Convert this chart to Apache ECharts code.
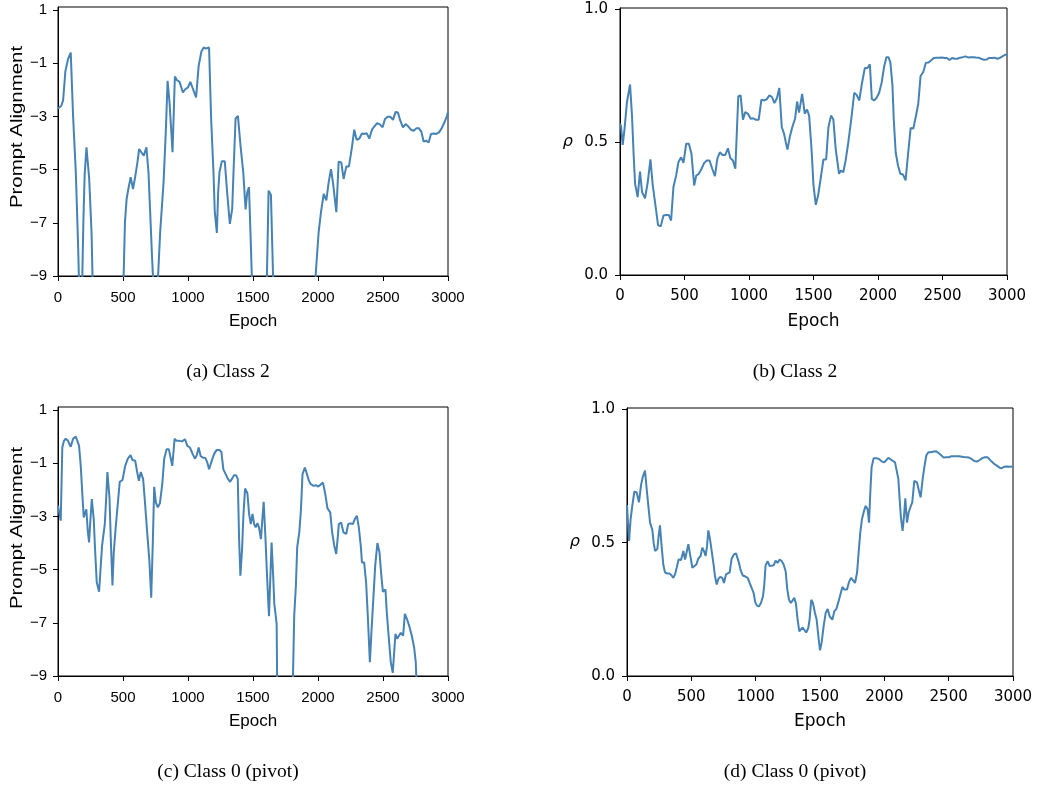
<!DOCTYPE html>
<html>
<head>
<meta charset="utf-8">
<title>Prompt alignment and rho over training</title>
<script src="https://cdn.jsdelivr.net/npm/echarts@6/dist/echarts.min.js"></script>
<style>
  html, body { margin: 0; padding: 0; background: #fff; }
  #chart { width: 1039px; height: 788px; }
</style>
</head>
<body>
<div id="chart"></div>
<script>
// Epoch ticks shared by every panel
const epochTicks = [0, 500, 1000, 1500, 2000, 2500, 3000];
const alignTicks = [-9, -7, -5, -3, -1, 1];
const rhoTicks = [0, 0.5, 1.0];

// [epoch, prompt alignment] for class 2; values under -9 run off the bottom of the axes
const alignClass2 = [
  [0,-2.7],[13,-2.75],[25,-2.6],[39,-2.41],[57,-1.29],[77,-0.85],[98,-0.6],[105,-0.54],[116,-2.98],
  [137,-5.1],[155,-7.9],[175,-12],[195,-7.0],[205,-5.2],[219,-4.16],[240,-5.35],[258,-7.35],[272,-10.5],
  [300,-13],[350,-14],[400,-13.5],[450,-14],[490,-12],[515,-6.98],[528,-6.1],[541,-5.73],[559,-5.29],
  [577,-5.73],[593,-5.29],[611,-4.73],[624,-4.23],[639,-4.2],[660,-4.48],[680,-4.16],[696,-5.1],[709,-6.6],
  [724,-8.35],[745,-10.5],[760,-10],[786,-7.35],[812,-5.48],[830,-3.48],[843,-1.66],[858,-2.48],[881,-4.35],
  [899,-1.5],[914,-1.63],[935,-1.7],[961,-2.1],[979,-1.98],[1000,-1.91],[1018,-1.7],[1039,-1.98],[1062,-2.29],
  [1082,-1.1],[1103,-0.56],[1121,-0.41],[1137,-0.45],[1147,-0.41],[1162,-0.41],[1178,-3.1],[1196,-5.1],
  [1206,-6.6],[1222,-7.38],[1232,-5.85],[1242,-5.1],[1260,-4.69],[1283,-4.69],[1301,-5.85],[1322,-7.04],
  [1340,-6.48],[1350,-5.1],[1366,-3.08],[1384,-2.98],[1404,-4.1],[1425,-5.1],[1443,-6.5],[1456,-5.85],
  [1469,-5.66],[1482,-7.6],[1500,-10.5],[1520,-13],[1560,-14],[1595,-12],[1620,-5.79],[1638,-5.95],
  [1648,-6.0],[1665,-11],[1700,-14],[1800,-15],[1900,-14],[1960,-11],[1985,-8.73],[2005,-7.35],[2023,-6.6],
  [2044,-5.91],[2064,-6.16],[2082,-5.48],[2100,-4.98],[2115,-5.48],[2141,-6.6],[2159,-4.7],[2179,-4.73],
  [2197,-5.35],[2218,-4.88],[2238,-4.88],[2259,-4.23],[2279,-3.5],[2297,-3.88],[2318,-3.83],[2338,-3.64],
  [2354,-3.66],[2374,-3.63],[2395,-3.83],[2415,-3.5],[2433,-3.38],[2454,-3.25],[2474,-3.29],[2497,-3.41],
  [2515,-3.1],[2536,-3.01],[2556,-3.01],[2577,-3.13],[2597,-2.83],[2615,-2.85],[2633,-3.16],[2654,-3.41],
  [2674,-3.29],[2695,-3.38],[2715,-3.5],[2736,-3.54],[2756,-3.45],[2777,-3.45],[2795,-3.58],[2813,-3.95],
  [2831,-3.91],[2851,-3.98],[2869,-3.66],[2890,-3.64],[2910,-3.66],[2931,-3.6],[2951,-3.45],[2972,-3.23],
  [2992,-2.98],[3000,-2.83]
];

// [epoch, rho] for class 2
const rhoClass2 = [
  [0,0.57],[8,0.56],[21,0.49],[34,0.544],[54,0.651],[78,0.717],[93,0.60],[106,0.45],[117,0.343],[137,0.293],
  [155,0.389],[171,0.312],[194,0.289],[215,0.349],[236,0.435],[254,0.337],[275,0.261],[295,0.188],[316,0.183],
  [337,0.224],[357,0.226],[378,0.226],[396,0.205],[414,0.33],[435,0.374],[453,0.425],[474,0.443],[492,0.422],
  [513,0.494],[534,0.494],[554,0.456],[575,0.337],[591,0.374],[611,0.381],[632,0.40],[653,0.422],[673,0.431],
  [694,0.431],[715,0.40],[736,0.372],[754,0.437],[774,0.462],[795,0.452],[816,0.452],[837,0.477],[855,0.44],
  [875,0.431],[894,0.40],[917,0.673],[935,0.676],[953,0.585],[971,0.613],[992,0.607],[1013,0.588],[1033,0.59],
  [1054,0.584],[1075,0.584],[1096,0.66],[1116,0.657],[1137,0.661],[1158,0.676],[1178,0.67],[1197,0.647],
  [1217,0.666],[1235,0.704],[1254,0.557],[1272,0.531],[1285,0.5],[1298,0.472],[1316,0.519],[1336,0.557],
  [1357,0.588],[1373,0.653],[1388,0.611],[1412,0.682],[1432,0.607],[1450,0.623],[1466,0.60],[1484,0.48],
  [1500,0.337],[1518,0.264],[1536,0.3],[1557,0.368],[1577,0.435],[1598,0.435],[1616,0.557],[1636,0.60],
  [1654,0.585],[1672,0.475],[1698,0.381],[1713,0.393],[1731,0.387],[1749,0.431],[1770,0.5],[1793,0.588],
  [1816,0.686],[1834,0.678],[1855,0.657],[1875,0.72],[1898,0.779],[1919,0.779],[1937,0.793],[1952,0.663],
  [1970,0.657],[1988,0.666],[2009,0.686],[2029,0.726],[2047,0.783],[2065,0.82],[2081,0.82],[2096,0.80],
  [2112,0.714],[2122,0.588],[2137,0.462],[2155,0.412],[2173,0.381],[2194,0.378],[2214,0.356],[2232,0.45],
  [2253,0.553],[2274,0.551],[2292,0.594],[2312,0.644],[2330,0.749],[2351,0.764],[2371,0.799],[2392,0.80],
  [2412,0.808],[2433,0.817],[2454,0.818],[2474,0.818],[2495,0.819],[2515,0.817],[2534,0.817],[2554,0.809],
  [2575,0.817],[2595,0.814],[2616,0.814],[2636,0.818],[2657,0.82],[2677,0.823],[2698,0.819],[2718,0.82],
  [2739,0.82],[2759,0.819],[2780,0.818],[2800,0.814],[2821,0.81],[2841,0.811],[2862,0.817],[2883,0.817],
  [2903,0.818],[2924,0.814],[2944,0.817],[2965,0.823],[2985,0.829],[3000,0.829]
];

// [epoch, prompt alignment] for class 0 (pivot)
const alignClass0 = [
  [0,-2.6],[8,-2.66],[21,-3.16],[33,-0.41],[46,-0.16],[59,-0.08],[77,-0.16],[98,-0.38],[116,-0.08],[136,0.0],
  [149,-0.16],[162,-0.35],[175,-1.1],[185,-1.98],[198,-3.04],[206,-2.91],[218,-2.73],[229,-3.54],[239,-3.98],
  [249,-3.16],[260,-2.35],[275,-3.1],[285,-4.23],[298,-5.48],[316,-5.83],[329,-4.85],[339,-4.1],[360,-3.29],
  [373,-2.1],[380,-1.33],[396,-2.29],[406,-3.85],[419,-5.6],[429,-4.35],[445,-3.35],[463,-2.35],[475,-1.7],
  [496,-1.63],[517,-1.1],[537,-0.83],[558,-0.7],[573,-0.88],[594,-0.91],[609,-1.33],[622,-1.66],[637,-1.33],
  [655,-1.6],[671,-2.6],[686,-3.6],[702,-4.6],[717,-6.06],[730,-3.85],[740,-1.89],[753,-2.48],[768,-2.66],
  [784,-2.5],[802,-1.79],[817,-0.83],[835,-0.48],[853,-0.48],[866,-0.79],[879,-1.1],[897,-0.08],[912,-0.16],
  [933,-0.16],[954,-0.18],[977,-0.1],[995,-0.35],[1015,-0.41],[1036,-0.66],[1054,-0.83],[1067,-0.7],
  [1082,-0.41],[1097,-0.73],[1113,-0.79],[1133,-0.8],[1149,-0.98],[1162,-1.23],[1180,-0.95],[1200,-0.66],
  [1221,-0.5],[1241,-0.5],[1257,-0.58],[1272,-1.23],[1290,-1.41],[1306,-1.58],[1324,-1.7],[1339,-1.58],
  [1354,-1.45],[1370,-1.45],[1383,-1.6],[1393,-3.85],[1403,-5.23],[1416,-4.23],[1426,-2.98],[1439,-1.95],
  [1457,-2.13],[1470,-2.91],[1483,-3.29],[1496,-2.91],[1509,-3.29],[1521,-3.41],[1534,-3.25],[1546,-3.41],
  [1561,-3.85],[1572,-3.1],[1582,-2.45],[1595,-3.73],[1608,-5.23],[1623,-6.75],[1633,-5.35],[1643,-3.98],
  [1654,-5.1],[1664,-6.29],[1682,-7.04],[1692,-13],[1720,-14],[1760,-14],[1795,-12],[1817,-6.73],[1830,-5.6],
  [1840,-4.16],[1856,-3.6],[1869,-2.73],[1881,-1.41],[1899,-1.16],[1915,-1.41],[1930,-1.66],[1945,-1.79],
  [1966,-1.85],[1986,-1.83],[2002,-1.88],[2017,-1.83],[2038,-1.73],[2056,-2.16],[2073,-2.7],[2094,-2.85],
  [2109,-3.6],[2125,-4.1],[2140,-4.41],[2153,-3.73],[2160,-3.29],[2178,-3.23],[2196,-3.6],[2217,-3.66],
  [2232,-3.29],[2248,-3.26],[2268,-3.29],[2283,-3.1],[2299,-2.98],[2314,-3.41],[2330,-4.16],[2338,-4.73],
  [2355,-4.73],[2370,-5.48],[2383,-6.73],[2399,-8.48],[2411,-7.35],[2427,-5.98],[2440,-4.85],[2457,-4.0],
  [2473,-4.35],[2486,-5.16],[2499,-5.83],[2519,-5.75],[2529,-6.6],[2545,-7.6],[2560,-8.48],[2575,-8.88],
  [2586,-8.1],[2596,-7.41],[2609,-7.6],[2624,-7.48],[2637,-7.38],[2655,-7.48],[2668,-6.66],[2686,-6.88],
  [2704,-7.16],[2721,-7.48],[2739,-7.91],[2752,-8.48],[2768,-10.5],[2800,-12.5],[2850,-13.5],[2900,-14],
  [2950,-14],[3000,-14.5]
];

// [epoch, rho] for class 0 (pivot)
const rhoClass0 = [
  [0,0.641],[16,0.506],[28,0.588],[41,0.638],[57,0.691],[75,0.689],[93,0.651],[109,0.716],[124,0.749],
  [140,0.77],[155,0.691],[166,0.638],[179,0.575],[197,0.548],[207,0.5],[218,0.469],[236,0.477],[246,0.525],
  [256,0.565],[269,0.487],[282,0.418],[295,0.389],[313,0.384],[331,0.384],[347,0.377],[360,0.368],[373,0.381],
  [386,0.406],[401,0.437],[420,0.435],[438,0.469],[451,0.437],[464,0.431],[477,0.494],[490,0.456],[508,0.406],
  [523,0.4],[539,0.418],[554,0.44],[572,0.45],[585,0.481],[598,0.469],[611,0.45],[622,0.487],[632,0.546],
  [645,0.513],[658,0.469],[673,0.418],[684,0.374],[697,0.343],[710,0.364],[725,0.372],[741,0.368],[754,0.349],
  [769,0.381],[782,0.387],[798,0.389],[813,0.44],[831,0.456],[847,0.46],[860,0.456],[870,0.425],[883,0.397],
  [899,0.377],[917,0.374],[938,0.368],[953,0.349],[969,0.33],[984,0.312],[997,0.276],[1010,0.264],[1026,0.261],
  [1041,0.274],[1057,0.299],[1067,0.343],[1077,0.415],[1093,0.431],[1109,0.412],[1124,0.406],[1140,0.415],
  [1155,0.433],[1171,0.424],[1186,0.437],[1202,0.431],[1217,0.418],[1233,0.393],[1246,0.324],[1259,0.286],
  [1274,0.274],[1287,0.28],[1300,0.293],[1313,0.271],[1326,0.211],[1339,0.167],[1352,0.173],[1365,0.182],
  [1378,0.176],[1393,0.163],[1409,0.18],[1419,0.211],[1432,0.286],[1445,0.274],[1461,0.236],[1474,0.211],
  [1487,0.15],[1500,0.096],[1513,0.126],[1528,0.186],[1544,0.236],[1560,0.251],[1575,0.224],[1596,0.211],
  [1611,0.242],[1627,0.251],[1642,0.276],[1658,0.305],[1674,0.334],[1689,0.324],[1710,0.324],[1725,0.352],
  [1741,0.368],[1756,0.368],[1772,0.349],[1788,0.387],[1800,0.462],[1813,0.538],[1826,0.588],[1842,0.619],
  [1855,0.638],[1870,0.625],[1881,0.575],[1891,0.688],[1901,0.783],[1917,0.817],[1938,0.817],[1958,0.814],
  [1979,0.805],[2000,0.801],[2015,0.801],[2031,0.818],[2046,0.814],[2062,0.808],[2083,0.801],[2098,0.799],
  [2109,0.739],[2119,0.663],[2129,0.594],[2142,0.544],[2153,0.6],[2163,0.666],[2176,0.575],[2189,0.613],
  [2202,0.632],[2217,0.651],[2233,0.732],[2254,0.726],[2269,0.695],[2282,0.67],[2298,0.739],[2311,0.783],
  [2326,0.827],[2342,0.839],[2362,0.839],[2383,0.842],[2404,0.843],[2419,0.837],[2440,0.829],[2461,0.819],
  [2481,0.82],[2502,0.82],[2518,0.824],[2533,0.819],[2549,0.824],[2564,0.819],[2580,0.824],[2595,0.821],
  [2616,0.821],[2637,0.82],[2658,0.819],[2678,0.814],[2699,0.806],[2720,0.804],[2741,0.81],[2761,0.817],
  [2782,0.82],[2803,0.82],[2818,0.814],[2834,0.804],[2855,0.795],[2875,0.789],[2896,0.781],[2912,0.779],
  [2932,0.785],[2953,0.786],[2974,0.785],[3000,0.786]
];

const captions = ['(a) Class 2', '(b) Class 2', '(c) Class 0 (pivot)', '(d) Class 0 (pivot)'];
const alignTitle = 'Prompt Alignment';

const LINE = '#4682b4';
const INK = '#000';
const SANS = 'Liberation Sans';
const DEJAVU = 'DejaVu Sans';
const TICK_FONT = 15;
const NAME_FONT = 17;

// plot boxes in page pixels
const boxes = [
  { left: 58,  top: 7,   width: 390, height: 269 },
  { left: 620, top: 8,   width: 387, height: 267 },
  { left: 58,  top: 407, width: 390, height: 269 },
  { left: 627, top: 408, width: 386, height: 268 }
];

const minus = v => String(v).replace('-', '\u2212');

function xAxisFor(i, font, gap) {
  return {
    type: 'value', gridIndex: i, min: 0, max: 3000, interval: 500,
    name: 'Epoch', nameLocation: 'middle', nameGap: gap,
    nameTextStyle: { fontFamily: font, fontSize: NAME_FONT, color: INK },
    axisLine: { onZero: false, lineStyle: { color: INK, width: 1 } },
    axisTick: { length: 5, lineStyle: { color: INK }, customValues: epochTicks },
    axisLabel: { margin: 14, fontFamily: font, fontSize: TICK_FONT, color: INK,
                 customValues: epochTicks, formatter: v => String(v) },
    splitLine: { show: false }
  };
}

function alignAxis(i) {
  return {
    type: 'value', gridIndex: i, min: -9, max: 1.113,
    axisLine: { lineStyle: { color: INK, width: 1 } },
    axisTick: { length: 5, lineStyle: { color: INK }, customValues: alignTicks },
    axisLabel: { margin: 11, fontFamily: SANS, fontSize: TICK_FONT, color: INK,
                 customValues: alignTicks, formatter: v => minus(v) },
    splitLine: { show: false }
  };
}

function rhoAxis(i, top) {
  return {
    type: 'value', gridIndex: i, min: 0, max: top,
    name: 'ρ', nameLocation: 'middle', nameGap: 47, nameRotate: 0,
    nameTextStyle: { fontFamily: DEJAVU, fontSize: 16, fontStyle: 'italic', color: INK },
    axisLine: { lineStyle: { color: INK, width: 1 } },
    axisTick: { length: 5, lineStyle: { color: INK }, customValues: rhoTicks },
    axisLabel: { margin: 12, fontFamily: DEJAVU, fontSize: TICK_FONT, color: INK,
                 customValues: rhoTicks, formatter: v => v.toFixed(1) },
    splitLine: { show: false }
  };
}

function lineSeries(i, data) {
  return {
    type: 'line', xAxisIndex: i, yAxisIndex: i, data: data,
    showSymbol: false, symbol: 'none', clip: true, animation: false,
    lineStyle: { color: LINE, width: 2 }
  };
}

const captionPos = [[228, 372], [795, 372], [228, 772], [795, 772]];
const alignTitlePos = [[17, 127], [17, 528]];

const graphics = captions.map((t, i) => ({
  type: 'text', x: captionPos[i][0], y: captionPos[i][1],
  style: { text: t, fill: INK, font: '19.5px "Liberation Serif"',
           textAlign: 'center', textVerticalAlign: 'middle' }
})).concat(alignTitlePos.map(p => ({
  // rotated axis title, stretched along its length
  type: 'text', x: p[0], y: p[1], rotation: Math.PI / 2, scaleX: 1.2,
  style: { text: alignTitle, fill: INK, font: NAME_FONT + 'px "Liberation Sans"',
           textAlign: 'center', textVerticalAlign: 'middle' }
})));

const chart = echarts.init(document.getElementById('chart'), null, { renderer: 'canvas' });
chart.setOption({
  animation: false,
  backgroundColor: '#fff',
  grid: boxes.map(b => Object.assign({ show: true, borderColor: INK, borderWidth: 1,
                                        backgroundColor: 'transparent' }, b)),
  xAxis: [xAxisFor(0, SANS, 37), xAxisFor(1, DEJAVU, 38), xAxisFor(2, SANS, 37), xAxisFor(3, DEJAVU, 37)],
  yAxis: [alignAxis(0), rhoAxis(1, 1.005), alignAxis(2), rhoAxis(3, 1.005)],
  series: [
    lineSeries(0, alignClass2),
    lineSeries(1, rhoClass2),
    lineSeries(2, alignClass0),
    lineSeries(3, rhoClass0)
  ],
  graphic: graphics
});
</script>
</body>
</html>
